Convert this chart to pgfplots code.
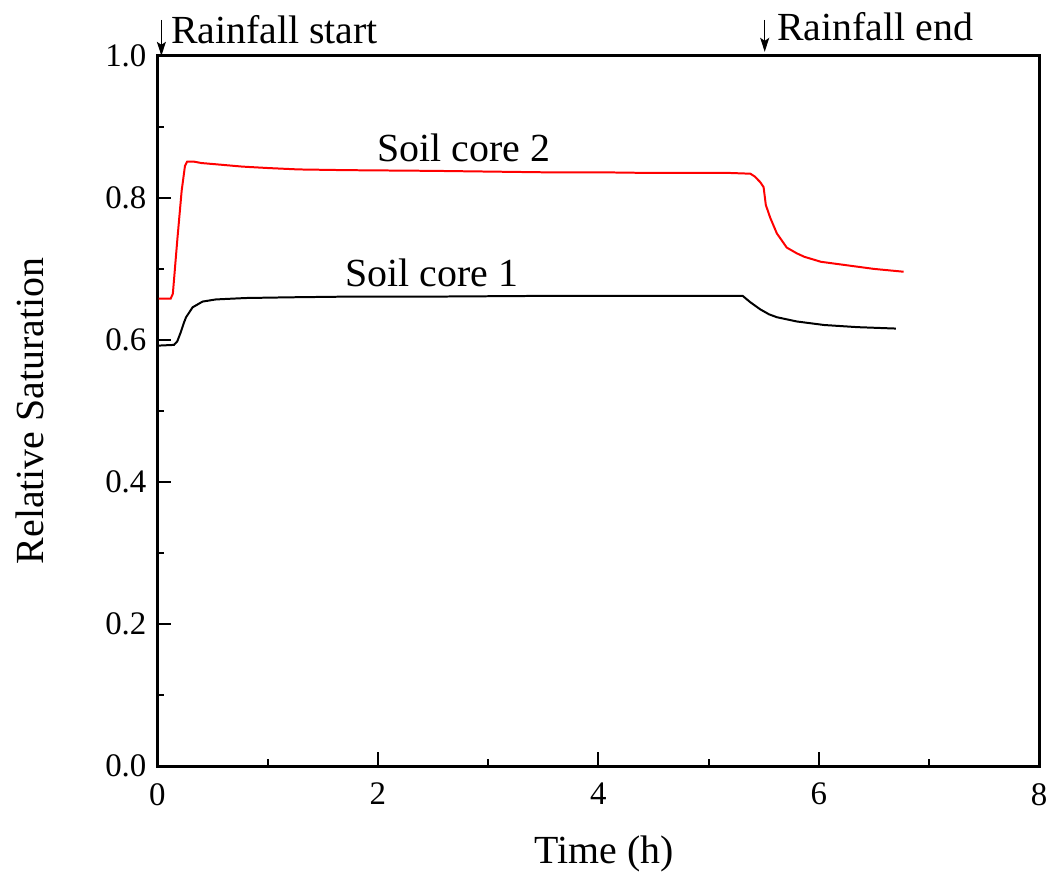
\documentclass[border=0pt]{standalone}
\usepackage{pgfplots}
\pgfplotsset{compat=1.18}
\usetikzlibrary{arrows.meta}
\usepackage{fontspec}
\setmainfont{Liberation Serif}
\begin{document}
\begin{tikzpicture}
\begin{axis}[
  scale only axis,
  width=442.5pt, height=356.5pt,
  xmin=0, xmax=8, ymin=0, ymax=1.0,
  xtick={0,2,4,6,8}, ytick={0,0.2,0.4,0.6,0.8,1.0},
  minor xtick={1,3,5,7}, minor ytick={0.1,0.3,0.5,0.7,0.9},
  xtick pos=left, ytick pos=left,
  tick align=inside,
  major tick length=7pt, minor tick length=3.5pt,
  every tick/.style={line width=1pt, black},
  axis line style={line width=1.5pt},
  /pgf/number format/assume math mode=true,
  yticklabel style={/pgf/number format/fixed, /pgf/number format/fixed zerofill, /pgf/number format/precision=1, font=\fontsize{16.5}{18}\selectfont, xshift=-2pt},
  xticklabel style={font=\fontsize{16.5}{18}\selectfont, yshift=-5pt},
  xlabel={Time (h)}, ylabel={Relative Saturation},
  xlabel style={font=\fontsize{20}{24}\selectfont, at={(axis description cs:0.507,-0.124)}, anchor=center},
  ylabel style={font=\fontsize{20}{24}\selectfont, at={(axis description cs:-0.145,0.5)}, anchor=center},
  clip=false,
]
\addplot[red, line width=1pt] coordinates {
(0.01,0.658) (0.12,0.658) (0.14,0.665) (0.18,0.740) (0.22,0.810) (0.25,0.845) (0.27,0.851) (0.33,0.851) (0.40,0.849) (0.55,0.847) (0.77,0.844) (1.0,0.842) (1.28,0.840) (1.71,0.839) (2.5,0.838) (3.0,0.837) (3.5,0.836) (4.0,0.836) (4.5,0.835) (4.9,0.835) (5.2,0.835) (5.38,0.834) (5.42,0.830) (5.47,0.822) (5.50,0.815) (5.52,0.790) (5.56,0.772) (5.62,0.750) (5.71,0.730) (5.80,0.722) (5.87,0.717) (6.02,0.710) (6.26,0.705) (6.50,0.700) (6.77,0.696)
};
\addplot[black, line width=1pt] coordinates {
(0.01,0.592) (0.15,0.593) (0.18,0.598) (0.21,0.610) (0.24,0.624) (0.26,0.632) (0.32,0.646) (0.41,0.654) (0.53,0.657) (0.80,0.659) (1.2,0.660) (1.74,0.661) (2.5,0.661) (3.5,0.662) (4.5,0.662) (5.31,0.662) (5.38,0.653) (5.47,0.643) (5.55,0.636) (5.62,0.632) (5.80,0.626) (6.05,0.621) (6.35,0.618) (6.70,0.616)
};
\node[font=\fontsize{20}{24}\selectfont] at (axis cs:2.78,0.871) {Soil core 2};
\node[font=\fontsize{20}{24}\selectfont] at (axis cs:2.49,0.694) {Soil core 1};
\draw[-{Stealth[length=7pt,width=4.5pt,inset=1.5pt]}, line width=0.7pt] (axis cs:0.036,1.0) ++(0,18pt) -- (axis cs:0.036,1.0);
\draw[-{Stealth[length=7pt,width=4.5pt,inset=1.5pt]}, line width=0.7pt] (axis cs:5.51,1.0) ++(0,18pt) -- ([yshift=2pt]axis cs:5.51,1.0);
\node[font=\fontsize{20}{24}\selectfont, anchor=west] at ([yshift=13pt]axis cs:0.06,1.0) {Rainfall start};
\node[font=\fontsize{20}{24}\selectfont, anchor=west] at ([yshift=14.5pt]axis cs:5.56,1.0) {Rainfall end};
\end{axis}
\path ([shift={(-79pt,-58.5pt)}]current axis.south west) rectangle ([shift={(5.5pt,28pt)}]current axis.north east);
\end{tikzpicture}
\end{document}
